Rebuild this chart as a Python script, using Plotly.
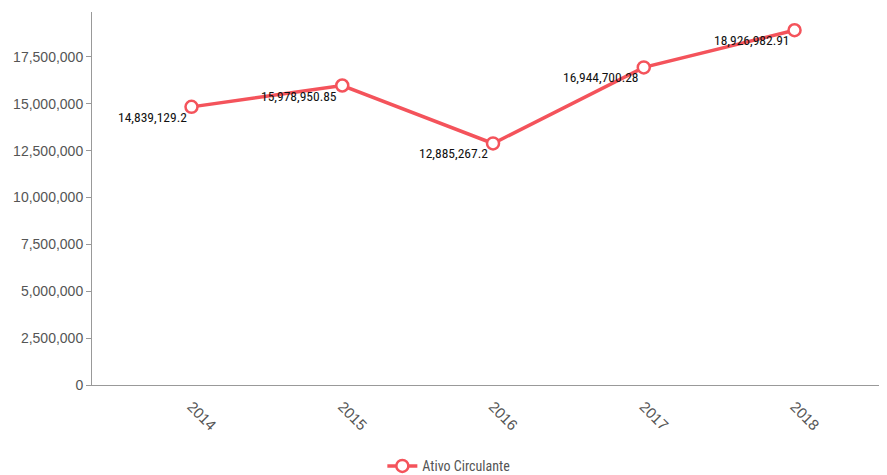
import plotly.graph_objects as go

years = ["2014", "2015", "2016", "2017", "2018"]
values = [14839129.2, 15978950.85, 12885267.2, 16944700.28, 18926982.91]
labels = ["14,839,129.2", "15,978,950.85", "12,885,267.2", "16,944,700.28", "18,926,982.91"]
series_name = "Ativo Circulante"

red = "#f4535b"
narrow = "Roboto Condensed, Liberation Sans Narrow, Arial Narrow, Arial"
regular = "Liberation Sans, Arial, sans-serif"

fig = go.Figure()
fig.add_trace(go.Scatter(
    x=years, y=values, mode="lines+markers", name=series_name,
    line=dict(color=red, width=3.5),
    marker=dict(symbol="circle", size=12, color="white", line=dict(color=red, width=2.5)),
    cliponaxis=False,
))

for i, (y, t) in enumerate(zip(values, labels)):
    fig.add_annotation(x=i, y=y, xref="x", yref="y", text=t, showarrow=False,
                       xanchor="right", yanchor="middle", xshift=-3, yshift=-10,
                       font=dict(family=narrow, size=13.5, color="#111"))

# page body has an 8px offset; size/margins compensate so plot area sits at x 92-885, y 12-385
fig.update_layout(
    width=879, height=467,
    margin=dict(l=84, r=2, t=4, b=90, autoexpand=False),
    plot_bgcolor="white", paper_bgcolor="white",
    showlegend=True,
    legend=dict(orientation="h", x=0.45, xanchor="center", y=-0.175, yanchor="top",
                itemwidth=30,
                font=dict(family=narrow, size=14, color="#555")),
    xaxis=dict(type="category", range=[-0.66, 4.6], tickangle=45, showgrid=False, automargin=False,
               showline=True, linecolor="#999", linewidth=1, ticks="", ticklabelstandoff=6,
               tickfont=dict(family=regular, size=15, color="#555")),
    yaxis=dict(range=[0, 19.9e6], tickvals=[0, 2.5e6, 5e6, 7.5e6, 10e6, 12.5e6, 15e6, 17.5e6],
               tickformat=",d", showgrid=False, zeroline=False, showline=True, linecolor="#999",
               linewidth=1, ticks="outside", ticklen=5, tickcolor="#999", automargin=False,
               tickfont=dict(family=regular, size=14, color="#555")),
)

fig.write_html("out.html")
